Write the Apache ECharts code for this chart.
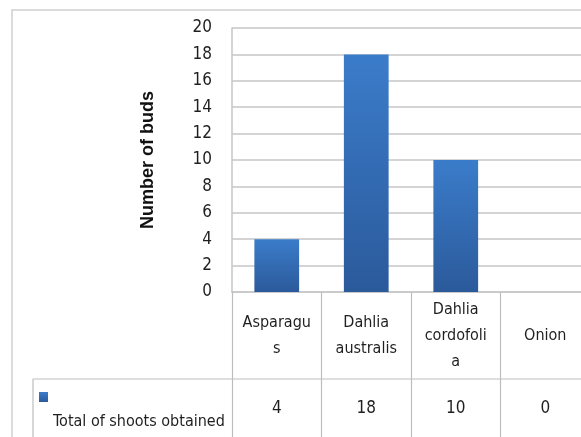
<!DOCTYPE html>
<html>
<head>
<meta charset="utf-8">
<script src="https://cdn.jsdelivr.net/npm/echarts@6/dist/echarts.min.js"></script>
<style>
  html, body { margin: 0; padding: 0; background: #ffffff; }
  #chart { width: 581px; height: 437px; }
</style>
</head>
<body>
<div id="chart"></div>
<script>
// Shoots obtained per plant (bar chart with data table underneath)
const seriesName = 'Total of shoots obtained';
const categories = ['Asparagus', 'Dahlia australis', 'Dahlia cordofolia', 'Onion'];
// how each category name is wrapped inside its table cell
const categoryLines = [['Asparagu', 's'], ['Dahlia', 'australis'], ['Dahlia', 'cordofoli', 'a'], ['Onion']];
const shootCounts = [4, 18, 10, 0];
const yTicks = [0, 2, 4, 6, 8, 10, 12, 14, 16, 18, 20];
const yTitle = 'Number of buds';

const narrow = "'DejaVu Sans Condensed', 'Liberation Sans Narrow', sans-serif";
const gridGray = '#c6c6c6';
const tableGray = '#bdbdbd';
const textColor = '#1f1f1f';

const chart = echarts.init(document.getElementById('chart'), null, { renderer: 'canvas' });

chart.setOption({
  backgroundColor: '#ffffff',
  animation: false,
  grid: { left: 232, top: 28, width: 358, bottom: 145, containLabel: false, outerBoundsMode: 'none' },
  legend: {
    left: 39, top: 392, padding: 0,
    icon: 'rect', itemWidth: 9, itemHeight: 10,
    selectedMode: false,
    formatter: () => '',
    data: [seriesName]
  },
  xAxis: [
    {
      type: 'category',
      data: categories,
      boundaryGap: true,
      axisLine: { show: true, lineStyle: { color: gridGray, width: 1.5 } },
      axisTick: { show: true, alignWithLabel: false, interval: 0, length: 145,
                  lineStyle: { color: tableGray, width: 1.2 } },
      axisLabel: {
        interval: 0, margin: 44, verticalAlign: 'middle', align: 'center',
        fontFamily: narrow, fontSize: 16, lineHeight: 26, color: textColor,
        formatter: (v, i) => categoryLines[i].join('\n')
      }
    },
    {
      type: 'category',
      position: 'bottom',
      offset: 100,
      data: shootCounts.map(String),
      axisLine: { show: false },
      axisTick: { show: false },
      axisLabel: { interval: 0, margin: 8, fontFamily: narrow, fontSize: 17, color: textColor }
    }
  ],
  yAxis: {
    type: 'value',
    min: yTicks[0], max: yTicks[yTicks.length - 1], interval: 2,
    name: yTitle, nameLocation: 'middle', nameGap: 75, nameRotate: 90,
    nameTextStyle: { fontFamily: "'Liberation Sans', Arial, sans-serif", fontWeight: 'bold', fontSize: 18, color: '#111111' },
    axisLine: { show: true, lineStyle: { color: gridGray, width: 1.5 } },
    axisTick: { show: false },
    axisLabel: { margin: 20, fontFamily: narrow, fontSize: 17, color: textColor },
    splitLine: { show: true, lineStyle: { color: gridGray, width: 1.5 } }
  },
  series: [{
    name: seriesName,
    type: 'bar',
    xAxisIndex: 0,
    barWidth: '50%',
    data: shootCounts,
    itemStyle: {
      color: new echarts.graphic.LinearGradient(0, 0, 0, 1, [
        { offset: 0, color: '#3b7cca' },
        { offset: 1, color: '#2b5a9b' }
      ])
    }
  }],
  graphic: [
    { type: 'rect', silent: true, z: -1,
      shape: { x: 12, y: 10, width: 620, height: 500 },
      style: { fill: null, stroke: '#cfcfcf', lineWidth: 1.5 } },
    { type: 'line', silent: true,
      shape: { x1: 33, y1: 379, x2: 590, y2: 379 },
      style: { stroke: tableGray, lineWidth: 1.2 } },
    { type: 'line', silent: true,
      shape: { x1: 33, y1: 379, x2: 33, y2: 440 },
      style: { stroke: tableGray, lineWidth: 1.2 } },
    { type: 'text', silent: true, left: 53, top: 414,
      style: { text: seriesName, font: "16px 'DejaVu Sans Condensed', 'Liberation Sans Narrow', sans-serif", fill: textColor } }
  ]
});
</script>
</body>
</html>
